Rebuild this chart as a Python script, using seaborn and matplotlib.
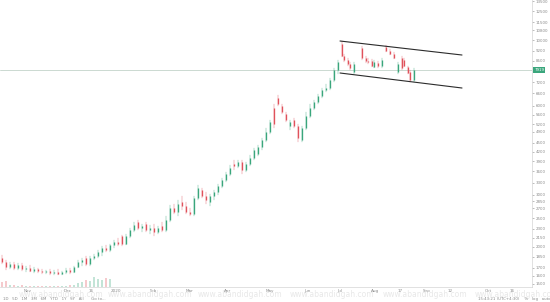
import matplotlib
matplotlib.use("Agg")
import matplotlib.pyplot as plt
from matplotlib.ticker import NullLocator
import numpy as np
import pandas as pd
import seaborn as sns

# ---------------- data ----------------
day = [1, 3, 5, 7, 9, 11, 13, 15, 17, 19, 21, 23, 25, 27, 29, 31, 33, 35, 37,
       39, 41, 43, 45, 47, 49, 51, 53, 55, 57, 59, 61, 63, 65, 67, 69, 71, 73,
       75, 77, 79, 81, 83, 85, 87, 89, 91, 93, 95, 97, 99, 101, 103, 105, 107,
       109, 111, 113, 115, 117, 119, 121, 123, 125, 127, 129, 131, 133, 135,
       137, 139, 141, 143, 145, 147, 149, 151, 153, 155, 157, 159, 161, 163,
       165, 167, 169, 171, 172, 174, 175, 177, 181, 183, 184, 186, 187, 189,
       191, 193, 195, 197, 199, 201, 202, 204, 205, 207]
open_ = [1836, 1779, 1711, 1752, 1698, 1738, 1685, 1698, 1659, 1685, 1659, 1646, 1659, 1633, 1646, 1621, 1646, 1672, 1646,
         1711, 1779, 1836, 1752, 1836, 1864, 1923, 1984, 1953, 2031, 2079, 2178, 2047, 2178, 2282, 2429, 2318, 2392,
         2282, 2318, 2247, 2355, 2282, 2467, 2709, 2625, 2838, 2751, 2625, 2585, 2927, 3115, 2973, 2838, 2973,
         3067, 3213, 3367, 3528, 3813, 3754, 3873, 3639, 3813, 3995, 4121, 4352, 4595, 4890,
         5893, 6370, 5986, 5625, 5124, 5368, 5124, 4595, 5045, 5538, 5893, 6175, 6470, 6779,
         6885, 7327, 7919, 9694, 8830, 8560, 8298, 7797, 9397, 8694, 8494, 8494, 8106, 8363,
         8169, 9470, 9180, 8969, 7797, 8694, 8560, 8106, 7797, 7327]
high = [1879, 1807, 1779, 1779, 1765, 1765, 1725, 1738, 1711, 1698, 1685, 1672, 1685, 1672, 1685, 1659, 1698, 1698, 1725,
        1807, 1836, 1864, 1864, 1894, 1953, 2015, 2031, 2047, 2111, 2145, 2195, 2212, 2318, 2429, 2467, 2392, 2429,
        2373, 2392, 2355, 2429, 2545, 2772, 2794, 2882, 2973, 2838, 2709, 2973, 3238, 3164, 3067, 3020, 3115,
        3264, 3420, 3583, 3783, 3933, 3933, 3933, 3873, 4089, 4318, 4420, 4667, 5045, 5368,
        6080, 6520, 6080, 5713, 5368, 5452, 5204, 5124, 5713, 6080, 6272, 6572, 6885, 7103,
        7442, 8043, 8560, 9923, 8969, 8694, 8428, 8428, 9544, 8830, 8694, 8627, 8560, 8494,
        8694, 9619, 9324, 9109, 8428, 8830, 8694, 8169, 7919, 8043]
low = [1752, 1672, 1685, 1672, 1672, 1659, 1646, 1646, 1633, 1633, 1621, 1621, 1608, 1608, 1608, 1608, 1621, 1621, 1633,
       1698, 1725, 1725, 1725, 1807, 1836, 1864, 1923, 1923, 1984, 2015, 2015, 2031, 2145, 2247, 2282, 2247, 2247,
       2212, 2178, 2212, 2247, 2247, 2429, 2585, 2545, 2666, 2585, 2545, 2545, 2882, 2927, 2794, 2751, 2882,
       2996, 3164, 3315, 3473, 3639, 3696, 3528, 3583, 3754, 3933, 4057, 4251, 4524, 4815,
       5045, 5986, 5625, 5285, 4967, 5045, 4524, 4524, 4967, 5452, 5802, 6080, 6370, 6675,
       6779, 7214, 7677, 8762, 8428, 8169, 7919, 7677, 8560, 8363, 8298, 8106, 8043, 8043,
       8043, 9109, 8899, 8627, 7677, 7919, 8106, 7677, 7214, 7214]
close = [1779, 1711, 1752, 1698, 1738, 1685, 1698, 1659, 1685, 1659, 1646, 1659, 1633, 1646, 1621, 1646, 1672, 1646, 1711,
         1779, 1807, 1752, 1836, 1864, 1923, 1984, 1953, 2031, 2079, 2047, 2047, 2178, 2282, 2373, 2318, 2355, 2282,
         2318, 2247, 2318, 2282, 2467, 2709, 2625, 2794, 2751, 2625, 2585, 2927, 3164, 2973, 2882, 2973, 3067,
         3213, 3367, 3528, 3696, 3754, 3873, 3639, 3813, 3995, 4251, 4352, 4595, 4890, 5285,
         5204, 6080, 5713, 5368, 5285, 5124, 4667, 5045, 5538, 5893, 6175, 6470, 6779, 6885,
         7327, 7919, 8428, 8830, 8560, 8298, 8043, 8298, 8694, 8494, 8428, 8169, 8428, 8169,
         8560, 9180, 8969, 8694, 8298, 8043, 8169, 7737, 7327, 7919]
volume = [2.6, 3.1, 1.2, 0.9, 0.7, 0.8, 0.6, 0.5, 0.6, 0.4, 0.5, 0.4, 0.5, 0.4, 0.6, 0.5, 0.7, 0.9, 1.2,
          1.8, 2.4, 3.6, 2.9, 5.0, 4.1, 3.3, 4.6, 3.8]

chan_days = [170, 231]
chan_top = [9923, 8899]
chan_bottom = [7737, 6885]

ytick_vals = [13500, 12500, 11500, 10800, 10000, 9200, 8500, 7200, 6600, 6000, 5600,
              5200, 4900, 4500, 4200, 3900, 3600, 3300, 3000, 2850, 2700, 2500,
              2300, 2150, 2000, 1850, 1700, 1600, 1500]
xtick_days = [14, 34, 45.5, 58, 76.5, 95, 114, 135, 153.5, 170, 187.5, 200, 213.5, 225, 244, 256]
xtick_labels = ["Nov", "Dec", "16", "2020", "Feb", "Mar", "Apr", "May", "Jun", "Jul",
                "Aug", "17", "Sep", "12", "Oct", "16"]

# ---------------- figure ----------------
sns.set_theme(style="white")
plt.rcParams["font.family"] = ["DejaVu Sans"]

W, H = 550, 302
fig = plt.figure(figsize=(W / 100, H / 100), dpi=100)
fig.patch.set_facecolor("white")
ax = fig.add_axes([0, 15 / H, 532 / W, 287 / H])

UP, DOWN = "#3aa67c", "#e0525c"
pal = {"up": UP, "down": DOWN}

wick_rows, body_rows = [], []
for i, (d, o, h, l, c) in enumerate(zip(day, open_, high, low, close)):
    dr = "up" if c >= o else "down"
    wick_rows += [(i, d, l, dr), (i, d, h, dr)]
    body_rows += [(i, d, o, dr), (i, d, c, dr)]
wick = pd.DataFrame(wick_rows, columns=["id", "day", "price", "dir"])
body = pd.DataFrame(body_rows, columns=["id", "day", "price", "dir"])

# volume on twin axis
ax2 = ax.twinx()
vcol = [UP if close[i] >= open_[i] else DOWN for i in range(len(volume))]
ax2.bar(day[:len(volume)], volume, width=1.3, color=vcol, alpha=0.3, linewidth=0)
ax2.set_ylim(0, max(volume) * 28.7)
ax2.axis("off")

sns.lineplot(data=wick, x="day", y="price", units="id", estimator=None, hue="dir",
             palette=pal, linewidth=0.35, alpha=0.8, legend=False, sort=False, ax=ax)
sns.lineplot(data=body, x="day", y="price", units="id", estimator=None, hue="dir",
             palette=pal, linewidth=0.95, legend=False, sort=False, ax=ax,
             solid_capstyle="butt")

# channel
sns.lineplot(x=chan_days, y=chan_top, color="#2b2b2b", linewidth=0.8, ax=ax)
sns.lineplot(x=chan_days, y=chan_bottom, color="#2b2b2b", linewidth=0.8, ax=ax)

last = close[-1]
ax.axhline(last, color="#c3d3ca", linewidth=0.6, zorder=0)

ax.set_yscale("log")
ax.set_ylim(1465, 13650)
ax.set_xlim(0, 266)
ax.set_xlabel("")
ax.set_ylabel("")
ax.yaxis.tick_right()
ax.set_yticks(ytick_vals)
ax.set_yticklabels([str(v) for v in ytick_vals])
ax.yaxis.set_minor_locator(NullLocator())
ax.tick_params(axis="y", which="major", labelsize=2.9, colors="#8a8a8a", length=1.5,
               width=0.4, pad=1.2, direction="out")
ax.set_xticks(xtick_days)
ax.set_xticklabels(xtick_labels)
ax.tick_params(axis="x", labelsize=3.0, colors="#8a8a8a", length=0, pad=1.5)
for s in ["top", "left"]:
    ax.spines[s].set_visible(False)
for s in ["right", "bottom"]:
    ax.spines[s].set_color("#d4d4d4")
    ax.spines[s].set_linewidth(0.5)

ax.text(1.004, last, str(last), transform=ax.get_yaxis_transform(), fontsize=2.9,
        color="white", ha="left", va="center",
        bbox=dict(boxstyle="square,pad=0.3", fc=UP, ec="none"))

# watermark and toolbar
for cx in [61, 150, 240, 332, 425, 517]:
    fig.text(cx / W, 1 - 294.5 / H, "www.abandidgah.com", fontsize=5.5, color="#e8e8e8",
             ha="center", va="center", zorder=0)
fig.text(3 / W, 1 - 299 / H, "1D   5D   1M   3M   6M   YTD   1Y   5Y   All      Go to...",
         fontsize=2.8, color="#8a8a8a", ha="left", va="center")
fig.text(478 / W, 1 - 299 / H, "15:43:21 (UTC+4:30)    %   log   auto",
         fontsize=2.8, color="#8a8a8a", ha="left", va="center")

fig.savefig("out.png", dpi=100, facecolor="white")
